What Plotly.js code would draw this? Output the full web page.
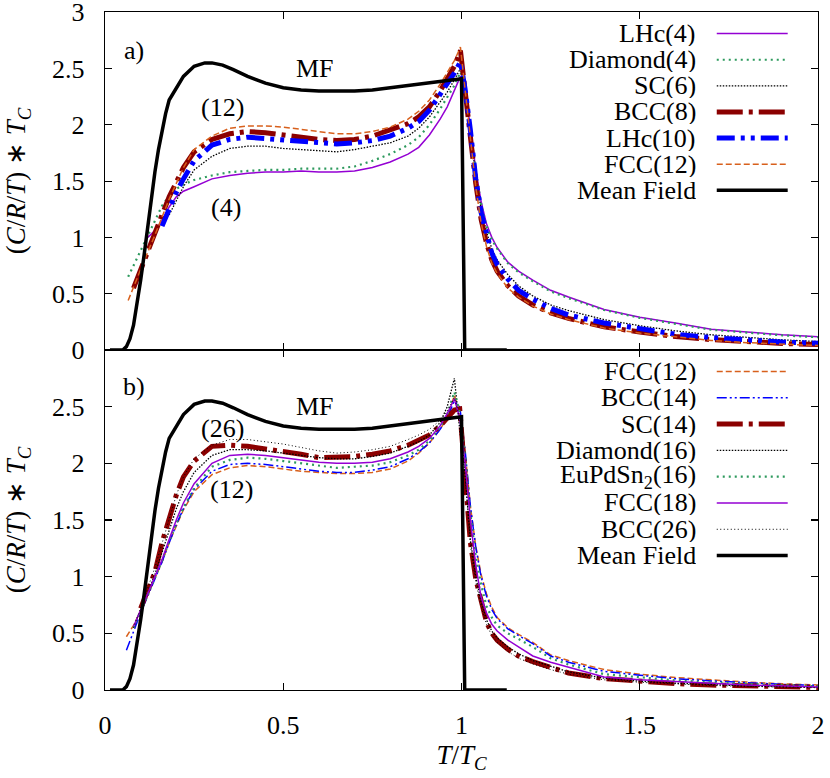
<!DOCTYPE html>
<html>
<head>
<meta charset="utf-8">
<script src="https://cdn.plot.ly/plotly-3.0.1.min.js"></script>
<style>
  body { margin: 0; background: #fff; }
  #chart { width: 830px; height: 778px; }
</style>
</head>
<body>
<div id="chart"></div>
<script>
// ---- data ----
// mean field curve (same in both panels)
const mfX = [0.014, 0.05, 0.06, 0.07, 0.08, 0.09, 0.1, 0.11, 0.12, 0.13, 0.14, 0.15, 0.16, 0.17, 0.18,
             0.2, 0.22, 0.25, 0.28, 0.3, 0.33, 0.36, 0.4, 0.45, 0.5, 0.55, 0.6, 0.65, 0.7, 0.75,
             0.8, 0.85, 0.9, 0.95, 1.0, 1.009, 1.127];
const mfY = [0, 0, 0.03, 0.1, 0.22, 0.4, 0.62, 0.85, 1.1, 1.35, 1.58, 1.78, 1.95, 2.1, 2.22,
             2.33, 2.43, 2.52, 2.55, 2.55, 2.53, 2.49, 2.43, 2.37, 2.33, 2.31, 2.30, 2.30, 2.30, 2.31,
             2.33, 2.35, 2.37, 2.39, 2.41, 0, 0];

// panel a)
const topX = [0.065, 0.08, 0.1, 0.12, 0.14, 0.16, 0.18, 0.2, 0.22, 0.25,
              0.3, 0.35, 0.4, 0.45, 0.5, 0.55, 0.6, 0.65, 0.7, 0.75,
              0.8, 0.85, 0.88, 0.91, 0.94, 0.96, 0.98, 0.997, 1.01, 1.025,
              1.04, 1.055, 1.07, 1.085, 1.1, 1.13, 1.16, 1.2, 1.25, 1.3,
              1.4, 1.5, 1.6, 1.7, 1.8, 1.9, 2.0];
const lhc4Y = [null, null, null, 1.0, 1.06, 1.15, 1.27, 1.36, 1.41, 1.45,
               1.52, 1.55, 1.57, 1.58, 1.58, 1.59, 1.58, 1.58, 1.59, 1.62,
               1.67, 1.74, 1.80, 1.91, 2.05, 2.16, 2.30, 2.43, 2.30, 1.98,
               1.60, 1.32, 1.12, 1.00, 0.91, 0.78, 0.70, 0.62, 0.53, 0.47,
               0.36, 0.29, 0.24, 0.185, 0.16, 0.135, 0.118];
const diamond4Y = [0.65, 0.75, 0.89, 1.02, 1.15, 1.28, 1.37, 1.43, 1.47, 1.51,
                   1.55, 1.58, 1.59, 1.60, 1.60, 1.61, 1.61, 1.61, 1.63, 1.68,
                   1.74, 1.82, 1.89, 2.00, 2.14, 2.24, 2.35, 2.47, 2.29, 1.97,
                   1.58, 1.30, 1.10, 0.98, 0.90, 0.77, 0.69, 0.61, 0.52, 0.46,
                   0.355, 0.285, 0.235, 0.18, 0.155, 0.13, 0.113];
const sc6Y = [null, null, null, null, null, null, 1.2, 1.33, 1.45, 1.6,
              1.72, 1.79, 1.81, 1.81, 1.79, 1.78, 1.77, 1.76, 1.78, 1.81,
              1.84, 1.9, 1.97, 2.07, 2.2, 2.29, 2.4, 2.5, 2.3, 1.95,
              1.55, 1.25, 1.05, 0.9, 0.8, 0.67, 0.57, 0.48, 0.40, 0.35,
              0.27, 0.215, 0.17, 0.135, 0.11, 0.09, 0.075];
const bcc8Y = [null, 0.55, 0.72, 0.88, 1.04, 1.2, 1.36, 1.5, 1.62, 1.76,
               1.87, 1.92, 1.94, 1.93, 1.91, 1.88, 1.87, 1.86, 1.87, 1.9,
               1.95, 2.01, 2.07, 2.16, 2.3, 2.4, 2.52, 2.66, 2.3, 1.9,
               1.48, 1.16, 0.95, 0.8, 0.7, 0.57, 0.48, 0.40, 0.33, 0.28,
               0.205, 0.16, 0.12, 0.092, 0.073, 0.058, 0.048];
const lhc10Y = [null, null, null, null, null, 1.1, 1.26, 1.4, 1.52, 1.68,
                1.82, 1.87, 1.89, 1.88, 1.86, 1.85, 1.84, 1.83, 1.84, 1.86,
                1.9, 1.97, 2.03, 2.13, 2.27, 2.36, 2.46, 2.56, 2.32, 1.95,
                1.52, 1.22, 1.02, 0.86, 0.76, 0.63, 0.53, 0.45, 0.37, 0.31,
                0.24, 0.19, 0.14, 0.11, 0.085, 0.07, 0.06];
const fcc12aY = [0.44, 0.56, 0.72, 0.87, 1.02, 1.18, 1.34, 1.48, 1.62, 1.78,
                 1.9, 1.97, 1.99, 1.99, 1.98, 1.96, 1.94, 1.92, 1.92, 1.94,
                 1.98, 2.05, 2.12, 2.22, 2.36, 2.46, 2.57, 2.69, 2.3, 1.88,
                 1.45, 1.13, 0.92, 0.77, 0.68, 0.55, 0.47, 0.39, 0.32, 0.27,
                 0.195, 0.15, 0.115, 0.085, 0.065, 0.05, 0.04];

// panel b)
const botX = [0.06, 0.08, 0.1, 0.12, 0.14, 0.16, 0.18, 0.2, 0.22, 0.25,
              0.3, 0.35, 0.4, 0.45, 0.5, 0.55, 0.6, 0.65, 0.7, 0.75,
              0.8, 0.85, 0.88, 0.91, 0.94, 0.96, 0.98, 0.995, 1.01, 1.025,
              1.04, 1.055, 1.07, 1.085, 1.1, 1.13, 1.16, 1.2, 1.25, 1.3,
              1.4, 1.5, 1.6, 1.7, 1.8, 1.9, 2.0];
const fcc12bY = [0.47, 0.57, 0.7, 0.84, 0.98, 1.13, 1.3, 1.45, 1.59, 1.75,
                 1.9, 1.96, 1.98, 1.97, 1.95, 1.93, 1.92, 1.91, 1.91, 1.92,
                 1.95, 2.02, 2.09, 2.18, 2.3, 2.4, 2.6, 2.45, 2.1, 1.62,
                 1.27, 1.02, 0.85, 0.73, 0.64, 0.55, 0.49, 0.42, 0.31, 0.26,
                 0.18, 0.14, 0.11, 0.088, 0.07, 0.055, 0.044];
const bcc14Y = [0.35, 0.52, 0.68, 0.83, 0.98, 1.13, 1.3, 1.46, 1.6, 1.77,
                1.93, 1.99, 2.0, 1.99, 1.97, 1.95, 1.93, 1.92, 1.92, 1.94,
                1.97, 2.04, 2.1, 2.18, 2.3, 2.4, 2.55, 2.5, 2.12, 1.62,
                1.26, 1.0, 0.83, 0.71, 0.63, 0.54, 0.48, 0.41, 0.30, 0.245,
                0.165, 0.13, 0.1, 0.08, 0.062, 0.05, 0.04];
const sc14Y = [null, null, 0.72, 0.88, 1.04, 1.3, 1.52, 1.72, 1.88, 2.02,
               2.15, 2.16, 2.15, 2.13, 2.11, 2.08, 2.05, 2.05, 2.06, 2.08,
               2.11, 2.16, 2.2, 2.25, 2.33, 2.4, 2.47, 2.48, 1.95, 1.3,
               0.98, 0.77, 0.6, 0.5, 0.44, 0.36, 0.3, 0.25, 0.2, 0.15,
               0.1, 0.075, 0.057, 0.044, 0.035, 0.028, 0.022];
const diamond16Y = [null, 0.55, 0.7, 0.86, 1.02, 1.22, 1.42, 1.6, 1.75, 1.92,
                    2.07, 2.12, 2.12, 2.11, 2.09, 2.07, 2.05, 2.04, 2.04, 2.06,
                    2.09, 2.15, 2.19, 2.25, 2.36, 2.5, 2.75, 2.3, 1.9, 1.32,
                    1.0, 0.78, 0.62, 0.52, 0.46, 0.38, 0.32, 0.26, 0.21, 0.16,
                    0.105, 0.078, 0.06, 0.046, 0.036, 0.029, 0.023];
const eupdsn16Y = [null, 0.55, 0.69, 0.84, 0.99, 1.14, 1.31, 1.47, 1.61, 1.78,
                   1.97, 2.03, 2.05, 2.04, 2.02, 2.0, 1.98, 1.96, 1.97, 1.98,
                   2.01, 2.07, 2.12, 2.2, 2.32, 2.43, 2.63, 2.45, 2.05, 1.55,
                   1.18, 0.93, 0.74, 0.64, 0.57, 0.5, 0.45, 0.38, 0.28, 0.225,
                   0.14, 0.11, 0.085, 0.068, 0.052, 0.042, 0.033];
const fcc18Y = [null, 0.56, 0.7, 0.85, 1.0, 1.15, 1.33, 1.5, 1.65, 1.82,
                2.0, 2.07, 2.08, 2.07, 2.05, 2.03, 2.01, 2.0, 2.0, 2.01,
                2.04, 2.1, 2.15, 2.22, 2.33, 2.44, 2.57, 2.4, 2.0, 1.5,
                1.1, 0.82, 0.68, 0.58, 0.52, 0.44, 0.38, 0.3, 0.245, 0.2,
                0.115, 0.09, 0.072, 0.06, 0.045, 0.035, 0.027];
const bcc26Y = [null, 0.55, 0.72, 0.9, 1.08, 1.3, 1.52, 1.72, 1.88, 2.04,
                2.16, 2.21, 2.21, 2.19, 2.17, 2.14, 2.11, 2.09, 2.1, 2.12,
                2.15, 2.21, 2.25, 2.3, 2.38, 2.46, 2.58, 2.4, 1.9, 1.28,
                0.95, 0.74, 0.58, 0.48, 0.42, 0.34, 0.28, 0.23, 0.18, 0.14,
                0.09, 0.068, 0.052, 0.04, 0.032, 0.026, 0.02];

const topNames = ['LHc(4)', 'Diamond(4)', 'SC(6)', 'BCC(8)', 'LHc(10)', 'FCC(12)', 'Mean Field'];
const botNames = ['FCC(12)', 'BCC(14)', 'SC(14)', 'Diamond(16)', 'EuPdSn<sub>2</sub>(16)',
                  'FCC(18)', 'BCC(26)', 'Mean Field'];
const topLabels = ['a)', 'MF', '(12)', '(4)'];
const botLabels = ['b)', 'MF', '(26)', '(12)'];
const topTicks = [0, 0.5, 1, 1.5, 2, 2.5, 3];
const botTicks = [0, 0.5, 1, 1.5, 2, 2.5];
const xTicks = [0, 0.5, 1, 1.5, 2];

// ---- styles ----
const purple = '#9400d3', green = '#2e9a5e', darkred = '#8b0000',
      blue = '#0000ff', orange = '#d8601c', black = '#000000';

const styles = {
  lhc4:      { color: purple,  width: 1.5, dash: 'solid' },
  diamond4:  { color: green,   width: 2.2, dash: '2px,4px' },
  sc6:       { color: black,   width: 1.3, dash: '1.5px,1.5px' },
  bcc8:      { color: darkred, width: 5,   dash: '26px,6px,4px,6px' },
  lhc10:     { color: blue,    width: 5,   dash: '18px,6px,4px,6px,4px,6px' },
  fcc12:     { color: orange,  width: 1.5, dash: '6px,3px' },
  mf:        { color: black,   width: 3.5, dash: 'solid' },
  bcc14:     { color: blue,    width: 1.5, dash: '10px,3px,2px,3px,2px,3px' },
  sc14:      { color: darkred, width: 5,   dash: '26px,6px,4px,6px' },
  diamond16: { color: black,   width: 1.3, dash: '1.5px,1.5px' },
  eupdsn16:  { color: green,   width: 2.2, dash: '2px,4px' },
  fcc18:     { color: purple,  width: 1.5, dash: 'solid' },
  bcc26:     { color: black,   width: 1,   dash: '1px,2.5px' }
};

function line(x, y, st, xa, ya) {
  return { x: x, y: y, type: 'scatter', mode: 'lines', xaxis: xa, yaxis: ya,
           hoverinfo: 'skip', line: { color: st.color, width: st.width, dash: st.dash } };
}

const topSeries = [
  [topX, lhc4Y, styles.lhc4], [topX, diamond4Y, styles.diamond4], [topX, sc6Y, styles.sc6],
  [topX, bcc8Y, styles.bcc8], [topX, lhc10Y, styles.lhc10], [topX, fcc12aY, styles.fcc12],
  [mfX, mfY, styles.mf]
];
const botSeries = [
  [botX, fcc12bY, styles.fcc12], [botX, bcc14Y, styles.bcc14], [botX, sc14Y, styles.sc14],
  [botX, diamond16Y, styles.diamond16], [botX, eupdsn16Y, styles.eupdsn16],
  [botX, fcc18Y, styles.fcc18], [botX, bcc26Y, styles.bcc26], [mfX, mfY, styles.mf]
];

const traces = [];
topSeries.forEach(s => traces.push(line(s[0], s[1], s[2], 'x', 'y')));
botSeries.forEach(s => traces.push(line(s[0], s[1], s[2], 'x2', 'y2')));

// ---- legend (text on the left, sample on the right, gnuplot style) ----
const shapes = [];
const annotations = [];
const legTop = 2.81, legStep = 0.232;
function addLegend(names, series, ya) {
  names.forEach((name, i) => {
    const yy = legTop - legStep * i;
    const st = series[i][2];
    annotations.push({ x: 1.662, y: yy, xref: 'x', yref: ya, text: name, showarrow: false,
                       xanchor: 'right', yanchor: 'middle', height: 25, valign: 'middle' });
    shapes.push({ type: 'line', xref: 'x', yref: ya, x0: 1.716, x1: 1.915, y0: yy, y1: yy,
                  line: { color: st.color, width: st.width, dash: st.dash } });
  });
}
addLegend(topNames, topSeries, 'y');
addLegend(botNames, botSeries, 'y2');

// panel labels
const topLabelPos = [[0.08, 2.66], [0.59, 2.5], [0.33, 2.15], [0.34, 1.27]];
const botLabelPos = [[0.08, 2.68], [0.59, 2.5], [0.33, 2.31], [0.355, 1.77]];
topLabels.forEach((t, i) => annotations.push({ x: topLabelPos[i][0], y: topLabelPos[i][1],
  xref: 'x', yref: 'y', text: t, showarrow: false }));
botLabels.forEach((t, i) => annotations.push({ x: botLabelPos[i][0], y: botLabelPos[i][1],
  xref: 'x', yref: 'y2', text: t, showarrow: false }));

const axisBase = {
  showline: true, linecolor: '#000', linewidth: 1.2, mirror: 'allticks',
  ticks: 'inside', ticklen: 7, tickwidth: 1.2, tickcolor: '#000',
  showgrid: false, zeroline: false, ticklabeloverflow: 'allow'
};
const yTitle = { text: '(<i>C</i>/<i>R</i>/<i>T</i>) ∗ <i>T</i><sub><i>C</i></sub>',
                 font: { size: 27 }, standoff: 18 };

const layout = {
  width: 830, height: 778,
  margin: { l: 105, r: 12, t: 12, b: 88 },
  paper_bgcolor: '#fff', plot_bgcolor: '#fff',
  showlegend: false,
  font: { family: 'Liberation Serif, serif', size: 26, color: '#000' },
  xaxis: Object.assign({}, axisBase, { domain: [0, 1], anchor: 'y', range: [0, 2],
    tickvals: xTicks, showticklabels: false }),
  xaxis2: Object.assign({}, axisBase, { domain: [0, 1], anchor: 'y2', range: [0, 2],
    tickvals: xTicks, matches: 'x', ticklabelstandoff: 12,
    title: { text: '<i>T</i>/<i>T</i><sub><i>C</i></sub>', font: { size: 27 }, standoff: 0 } }),
  yaxis: Object.assign({}, axisBase, { domain: [0.5015, 1], anchor: 'x', range: [0, 3.002],
    tickvals: topTicks, ticklabelstandoff: 14, title: yTitle }),
  yaxis2: Object.assign({}, axisBase, { domain: [0, 0.5015], anchor: 'x2', range: [0, 3],
    tickvals: botTicks, ticklabelstandoff: 14, title: yTitle }),
  shapes: shapes,
  annotations: annotations
};

Plotly.newPlot('chart', traces, layout, { displayModeBar: false, staticPlot: true });
</script>
</body>
</html>
